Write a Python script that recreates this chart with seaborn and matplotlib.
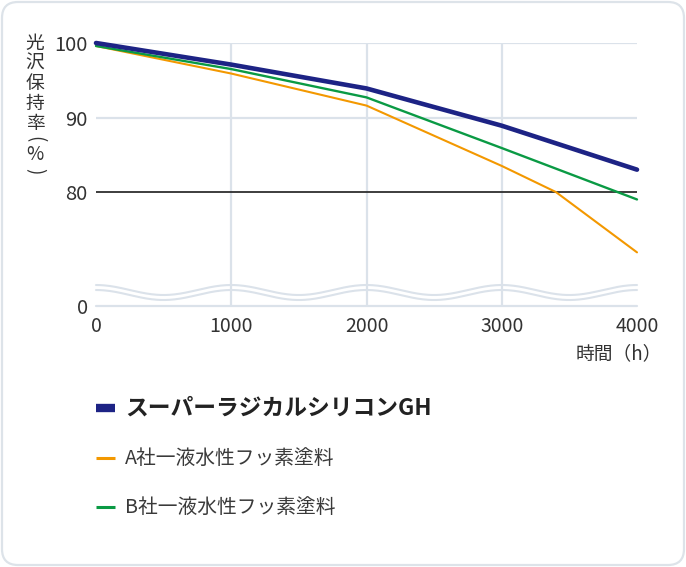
import numpy as np
import pandas as pd
import matplotlib
matplotlib.use("Agg")
import matplotlib.pyplot as plt
from matplotlib.patches import FancyBboxPatch
from matplotlib.transforms import IdentityTransform
import seaborn as sns

# ---- data ----
hours_gh = [0, 1000, 2000, 3000, 4000]
gloss_gh = [100.0, 97.1, 93.9, 88.9, 83.0]
hours_a = [0, 1000, 2000, 3000, 3400, 4000]
gloss_a = [99.6, 95.9, 91.6, 83.5, 80.0, 71.9]
hours_b = [0, 1000, 2000, 3000, 4000]
gloss_b = [99.6, 96.5, 92.7, 85.9, 79.0]

series_names = ["スーパーラジカルシリコンGH", "A社一液水性フッ素塗料", "B社一液水性フッ素塗料"]
x_ticks = [0, 1000, 2000, 3000, 4000]
y_ticks = [0, 80, 90, 100]
y_label_chars = ["光", "沢", "保", "持", "率", "(", "%", ")"]
x_label = "時間（h）"

colors = ["#1d2385", "#f39800", "#0a9a44"]
widths = [3.3, 1.5, 1.7]

sns.set_theme(style="white")
plt.rcParams["font.family"] = ["Noto Sans CJK JP", "DejaVu Sans"]

W, H = 686, 567
fig = plt.figure(figsize=(W / 100, H / 100), dpi=100)

def px_ax(l, r, t, b):
    return [l / W, 1 - b / H, (r - l) / W, (b - t) / H]

ax = fig.add_axes(px_ax(96, 637, 43, 306))

# broken y scale: linear above the break, 0 squeezed just below it
c = 66.0
t0 = 64.70
k = (c - t0) / c
def fwd(y):
    y = np.asarray(y, dtype=float)
    return np.where(y >= c, y, c - (c - y) * k)
def inv(t):
    t = np.asarray(t, dtype=float)
    return np.where(t >= c, t, c - (c - t) / k)
ax.set_yscale("function", functions=(fwd, inv))

grid_c = "#dbe2ea"
for yv in [90, 100]:
    ax.axhline(yv, color=grid_c, lw=1.6, zorder=1)
ax.axhline(0, color=grid_c, lw=1.6, zorder=1, clip_on=False)
for xv in [1000, 2000, 3000]:
    ax.axvline(xv, color=grid_c, lw=1.6, zorder=1)

# wavy break
xs = np.linspace(0, 4000, 400)
for base in (0.0608, 0.0418):
    ax.plot(xs, base + 0.019 * np.cos(2 * np.pi * xs / 1000), color=grid_c, lw=1.5,
            transform=ax.get_xaxis_transform(), zorder=1, clip_on=False)

# 80 reference line
ax.axhline(80, color="#2e2e2e", lw=1.3, zorder=2)

df_list = [
    pd.DataFrame({"h": hours_gh, "g": gloss_gh}),
    pd.DataFrame({"h": hours_a, "g": gloss_a}),
    pd.DataFrame({"h": hours_b, "g": gloss_b}),
]
for i in [1, 2, 0]:
    sns.lineplot(data=df_list[i], x="h", y="g", color=colors[i], lw=widths[i], ax=ax,
                 zorder=5 + (i == 0), clip_on=False)

ax.set_xlim(0, 4000)
ax.set_ylim(0, 100)
ax.set_xticks(x_ticks)
ax.set_xticklabels([str(v) for v in x_ticks])
ax.set_yticks(y_ticks)
ax.set_yticklabels([str(v) for v in y_ticks])
ax.tick_params(axis="both", length=0, colors="#333333")
ax.tick_params(axis="x", pad=7, labelsize=14)
ax.tick_params(axis="y", pad=6, labelsize=14.5)
ax.set_xlabel("")
ax.set_ylabel("")
for s in ax.spines.values():
    s.set_visible(False)
ax.patch.set_alpha(0)

# y label: stacked vertical characters
ys = [43, 63, 83, 103, 123, 139, 155, 171]
for ch, yy in zip(y_label_chars, ys):
    rot = -90 if ch in "()" else 0
    fig.text(35 / W, 1 - yy / H, ch, ha="center", va="center", fontsize=13.5,
             color="#333333", rotation=rot)

# x label
fig.text(662 / W, 1 - 354 / H, x_label, ha="right", va="center", fontsize=13.5, color="#333333")

# legend
leg_y = [408, 458, 507]
leg_lw = [6.0, 2.2, 2.2]
for i in range(3):
    fig.add_artist(plt.Line2D([96 / W, 115 / W], [1 - leg_y[i] / H] * 2,
                              color=colors[i], lw=leg_lw[i], solid_capstyle="butt"))
fig.text(125 / W, 1 - leg_y[0] / H, series_names[0], ha="left", va="center",
         fontsize=16.4, fontweight="bold", color="#222222")
for i in (1, 2):
    fig.text(125 / W, 1 - leg_y[i] / H, series_names[i], ha="left", va="center",
             fontsize=14.2, color="#3a3a3a")

# rounded border
fig.patches.append(FancyBboxPatch((2, 2), W - 4, H - 4,
                                  boxstyle="round,pad=0,rounding_size=16",
                                  transform=IdentityTransform(), fill=False,
                                  ec="#dde3e9", lw=1.6))

fig.savefig("out.png", dpi=100)
